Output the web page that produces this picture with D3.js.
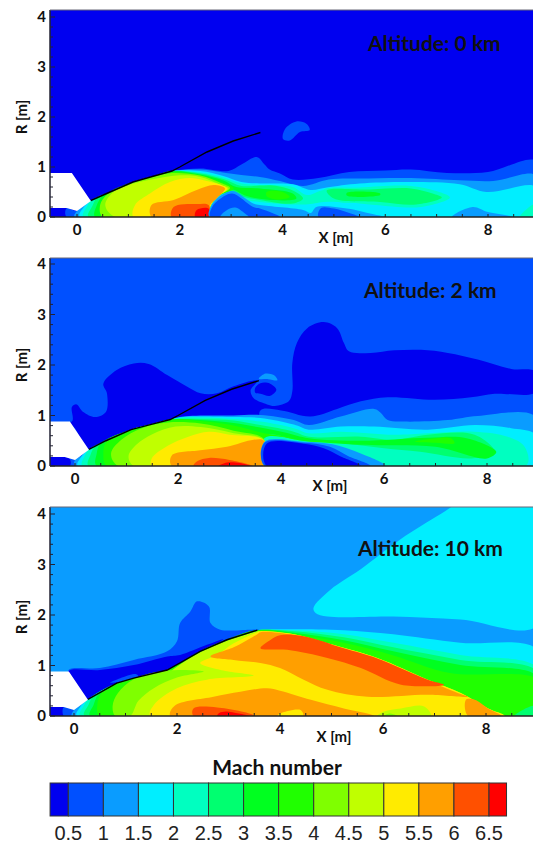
<!DOCTYPE html>
<html><head><meta charset="utf-8">
<script src="https://cdn.jsdelivr.net/npm/d3@7/dist/d3.min.js"></script>
<style>html,body{margin:0;padding:0;background:#fff}svg{display:block}
text{fill:#111}</style></head><body><svg id="c" width="533" height="847"></svg>
<script>
const machBandColors=["#0000f0","#0050ff","#0a9cff","#00eeff","#00ffc0","#00ff70","#00ff20","#20ff00","#7fff00","#c0ff00","#ffeb00","#ff9f00","#ff5000","#ff0000"];
const machTicks=[0.5,1,1.5,2,2.5,3,3.5,4,4.5,5,5.5,6,6.5];
const xTicks=[0,2,4,6,8];
const rTicks=[0,1,2,3,4];
const altitudes=["Altitude: 0 km","Altitude: 2 km","Altitude: 10 km"];
const noseBlank=[[-.6,.88],[-.1,.88],[.27,.32],[0,.12],[-.2,.18],[-.6,.18]];
const body=[[.27,.33],[.6,.48],[1.09,.7],[1.5,.82],[1.85,.92]];
const bodyMid=[[.6,.48],[1.09,.7],[1.5,.82],[1.85,.92]];
const cowl1=[[.27,.33],[.6,.48],[1.09,.7],[1.5,.82],[1.85,.92],[2.0,1],[2.53,1.3],[3.04,1.52],[3.57,1.69]];
const cowl2=[[.27,.33],[.6,.5],[1.09,.72],[1.5,.83],[1.85,.92],[2.0,1],[2.53,1.3],[3.04,1.52],[3.57,1.69]];
const cowl3=[[.27,.33],[.83,.65],[1.16,.75],[1.81,.91],[2.06,1.05],[2.45,1.28],[2.97,1.51],[3.56,1.7]];
const coneEdge3=[[.83,.65],[1.16,.75],[1.81,.91],[2.06,1.05],[2.45,1.28],[2.97,1.51],[3.56,1.7]];
const shock3=[[3.62,1.68],[4.27,1.62],[4.92,1.44],[5.89,1.15],[6.87,.72],[7.52,.45],[8.04,.15],[8.36,0]];
const noseDark=[[-.6,0],[-.6,.18],[-.2,.18],[-.1,.14],[-.1,0]];

const regions0km=[
[1,[[4.01,1.56],[4.05,1.76],[4.27,1.91],[4.47,1.86],[4.53,1.74],[4.34,1.7],[4.14,1.53]]],
[1,[[-.2,0],[-.2,.18],[0,.12],...body,[2.4,.97],[2.95,.92],[3.2,1.05],[3.5,1.2],[3.65,1.05],[3.75,.95],[3.95,.87],[4.2,.75],[4.7,.78],[5.3,.9],[6,.93],[6.5,.95],[7.2,.88],[8,.9],[8.94,1.12],[8.94,0]]],
[2,[[-.05,0],[0,.12],...body,[2.4,.95],[2.9,.88],[3.2,.84],[3.56,.8],[3.95,.72],[4.4,.62],[4.9,.75],[5.5,.77],[6.5,.78],[7.45,.735],[8.1,.72],[8.94,.83],[8.94,0]]],
[3,[[.05,0],[.12,.18],...body,[2.4,.92],[2.85,.82],[3.2,.7],[3.56,.67],[4.2,.655],[4.55,.54],[4.86,.59],[5.5,.67],[6.5,.7],[7.45,.655],[7.97,.5],[8.94,.6],[8.94,0]]],
[4,[[.12,0],[.2,.22],...body,[2.4,.89],[2.85,.79],[3.2,.67],[3.56,.64],[4.2,.6],[4.47,.44],[4.8,.54],[5.5,.59],[6.5,.62],[7.05,.5],[7.26,.39],[6.7,.2],[5.8,.24],[5.2,.3],[4.8,.3],[4.45,.25],[3.56,.3],[3.1,.4],[2.95,.6],[2.72,.4],[2.59,.2],[2.56,0]]],
[5,[[.22,0],[.3,.22],[.4,.4],...bodyMid,[2.4,.87],[2.85,.76],[3.2,.62],[3.56,.63],[3.82,.63],[4.2,.53],[4.4,.37],[4.2,.27],[3.56,.34],[3.1,.45],[2.9,.6],[2.72,.4],[2.59,.2],[2.56,0]]],
[6,[[.35,0],[.38,.22],[.5,.43],...bodyMid,[2.4,.85],[2.85,.73],[3.1,.6],[3.56,.57],[4.2,.47],[4.27,.37],[3.75,.34],[3.3,.42],[3,.55],[2.72,.4],[2.59,.2],[2.56,0]]],
[7,[[.5,0],[.48,.22],[.6,.47],[1.09,.7],[1.5,.82],[1.85,.9],[2.4,.83],[2.8,.7],[3.05,.57],[2.72,.4],[2.59,.2],[2.56,0]]],
[7,[[3.69,.5],[4,.5],[4.14,.4],[3.88,.35],[3.69,.42]]],
[4,[[4.8,.54],[5.7,.58],[6.5,.6],[7,.5],[7.2,.39],[6.6,.21],[5.9,.27],[4.95,.34]]],
[5,[[4.86,.53],[5.7,.55],[6.5,.57],[6.95,.46],[7.1,.39],[6.6,.25],[5.9,.3],[5,.37]]],
[6,[[5.25,.48],[5.9,.47],[5.9,.44],[5.25,.43]]],
[8,[[.5,0],[.45,.24],[.6,.46],[1.09,.69],[1.5,.81],[1.85,.88],[2.4,.83],[2.8,.68],[2.98,.58],[2.72,.4],[2.59,.2],[2.56,0]]],
[9,[[.74,0],[.55,.24],[.71,.5],[1.1,.67],[1.55,.77],[1.94,.83],[2.4,.8],[2.8,.64],[2.95,.57],[2.72,.4],[2.59,.2],[2.56,0]]],
[10,[[1.1,0],[1.13,.24],[1.42,.47],[1.81,.7],[2.2,.78],[2.46,.735],[2.92,.57],[2.72,.4],[2.59,.2],[2.56,0]]],
[11,[[1.45,0],[1.45,.24],[1.88,.34],[2.33,.54],[2.66,.64],[2.88,.57],[2.72,.37],[2.59,.24],[2.56,0]]],
[12,[[1.84,0],[1.88,.2],[2.33,.26],[2.56,.24],[2.56,0]]],
[13,[[2.3,0],[2.33,.14],[2.56,.17],[2.56,0]]],
[2,[[2.58,0],[2.6,.2],[2.76,.4],[3,.52],[3.1,.5],[3.43,.27],[3.56,.24],[4.4,.14],[4.55,.08],[4.66,.2],[5.25,.17],[5.83,.04],[6.03,0]]],
[1,[[2.6,0],[2.63,.2],[2.78,.36],[3.02,.47],[3.43,.2],[3.56,.17],[3.8,.08],[3.95,0]]],
[2,[[2.79,0],[2.92,.14],[3.08,.19],[3.27,.07],[3.34,0]]],
[1,[[4.7,0],[4.75,.18],[5,.17],[5.3,.08],[5.5,0]]],
[2,[[7.3,0],[7.7,.2],[8,.1],[8.5,0]]],
[4,[[8.62,0],[8.94,.27],[8.94,0]]]
];

const regions2km=[
[0,[[-.6,.88],[-.06,.88],[-.06,1.17],[.03,1.22],[.16,1.07],[.39,.97],[.6,1.07],[.62,1.44],[.55,1.63],[.81,1.9],[1.14,2.03],[1.43,2.02],[1.79,1.8],[2.18,1.57],[2.44,1.44],[2.76,1.44],[3.08,1.58],[3.54,1.69],[3.41,1.5],[3.47,1.34],[3.73,1.22],[3.88,1.19],[4.15,1.28],[4.22,1.48],[4.22,2.04],[4.31,2.44],[4.51,2.73],[4.83,2.85],[5.09,2.73],[5.22,2.44],[5.32,2.27],[5.74,2.24],[6.2,2.29],[6.72,2.3],[7.24,2.24],[7.82,2.11],[8.47,1.92],[8.94,1.87],[8.94,1.46],[8.15,1.43],[7.69,1.36],[6.98,1.31],[6.07,1.36],[5.55,1.28],[5.09,1.13],[4.57,.98],[4,1.1],[3.6,1.1],[3.6,.5],[1.85,.5],[.27,.32],[-.06,.8]]],
[0,[[3.5,1.55],[3.6,1.64],[3.79,1.63],[3.91,1.51],[3.79,1.39],[3.6,1.43],[3.5,1.45]]],
[2,[[3.57,1.73],[3.7,1.83],[3.86,1.8],[3.93,1.7],[3.75,1.72]]],
[0,noseDark],
[2,[[0,0],[0,.12],[.15,.22],...cowl2.slice(0,5),[2.1,.98],[3.08,1],[3.6,1.01],[4.25,.91],[4.54,.81],[5.16,.98],[5.81,1.13],[5.94,1.05],[6.07,.91],[6.39,.88],[7.24,.91],[7.82,.99],[8.94,.98],[8.94,0]]],
[3,[[.05,0],[.12,.18],...cowl2.slice(0,5),[2.1,.97],[3.08,.97],[3.6,.95],[4.25,.82],[4.54,.72],[5.16,.78],[5.81,.78],[6.85,.72],[7.76,.81],[8.47,.75],[8.94,.62],[8.94,0]]],
[4,[[.14,0],[.2,.22],...cowl2.slice(0,5),[2.1,.96],[3.08,.93],[3.6,.88],[4.25,.75],[4.54,.65],[5.16,.68],[6.2,.62],[6.85,.65],[7.76,.68],[8.4,.58],[8.73,.38],[8.76,0]]],
[5,[[.26,0],[.3,.22],[.4,.4],...cowl2.slice(1,5),[2.44,.93],[3.08,.9],[3.6,.81],[4.25,.68],[4.54,.58],[5.55,.58],[6.2,.52],[6.85,.62],[7.76,.62],[8.15,.28],[7.7,.15],[6.7,.28],[6,.35],[5.2,.45],[4.44,.53],[3.68,.55],[3.67,0]]],
[6,[[.42,0],[.42,.24],[.5,.45],...cowl2.slice(2,5),[2.44,.91],[3.08,.85],[3.6,.76],[4.1,.66],[4.54,.55],[5.55,.5],[6.85,.56],[7.6,.55],[8.18,.28],[8,.15],[7,.38],[5.55,.42],[4.4,.5],[3.68,.6],[3.67,0]]],
[7,[[.62,0],[.55,.22],[.62,.5],...cowl2.slice(2,5),[2.44,.89],[3.08,.8],[3.67,.65],[4.1,.58],[4.44,.5],[5,.47],[5.5,.45],[4.5,.5],[3.67,.55],[3.67,0]]],
[7,[[6.6,.48],[6.85,.53],[7.3,.55],[7.37,.45],[7,.46]]],
[8,[[.84,0],[.7,.25],[.9,.52],[1.3,.75],[1.8,.86],[2.44,.84],[3.08,.7],[3.67,.53],[3.67,0]]],
[9,[[1.14,0],[1.04,.2],[1.2,.43],[1.5,.63],[1.95,.78],[2.44,.77],[3.08,.65],[3.67,.51],[3.67,0]]],
[10,[[1.49,0],[1.49,.15],[1.8,.4],[2.2,.58],[2.6,.68],[3,.62],[3.67,.5],[3.67,0]]],
[11,[[1.88,0],[1.88,.21],[2.43,.31],[2.95,.38],[3.47,.52],[3.67,.5],[3.67,0]]],
[12,[[2.3,0],[2.38,.1],[2.6,.16],[3,.12],[3.45,0]]],
[13,[[2.79,0],[2.95,.07],[3.2,.06],[3.4,0]]],
[2,[[3.68,0],[3.68,.48],[4.44,.48],[5,.43],[5.55,.25],[6.03,0]]],
[1,[[3.68,0],[3.68,.46],[4.44,.46],[4.95,.38],[5.3,.2],[5.74,0]]],
[0,[[3.72,0],[3.72,.44],[4.44,.44],[4.83,.35],[5.16,.19],[5.55,0]]]
];

const regions10km=[
[3,[[4.65,2.14],[4.98,2.5],[5.56,2.9],[6.34,3.5],[7.12,4],[7.65,4.3],[9,4.3],[9,1.79],[7.5,1.91],[6.2,1.97],[4.92,1.97],[4.69,2.04]]],
[1,[[-.11,.9],[.5,.95],[1.16,1.11],[1.81,1.28],[2,1.48],[2.06,1.84],[2.26,2.07],[2.39,2.27],[2.62,2.17],[2.65,1.84],[2.84,1.71],[3.43,1.71],[3.6,1.7],[2.9,1.4],[1.8,.8],[.27,.3]]],
[0,[[-.11,.88],[.5,.91],[1.16,1.01],[1.81,1.18],[2.06,1.21],[2.58,1.41],[2.9,1.52],[2.4,1.2],[1.8,.8],[.27,.3]]],
[0,noseDark],
[1,[[.7,.66],[.9,.75],[1.2,.83],[1.25,.78],[.9,.68]]],
[1,[[-.2,0],[-.2,.18],[0,.12],[.03,0]]],
[2,[[-.05,0],[0,.12],[.1,.17],[.1,0]]],
[3,[[.05,0],[.12,.18],...cowl3,[3.62,1.71],[4.27,1.72],[5.24,1.7],[6.2,1.62],[7.5,1.45],[9,1.31],[9,0]]],
[4,[[.12,0],[.2,.22],...cowl3,[3.62,1.7],[4.27,1.7],[5.24,1.62],[6.2,1.45],[7.5,1.21],[9,.95],[9,0]]],
[5,[[.2,0],[.28,.22],[.38,.4],...coneEdge3,[4.27,1.68],[5.24,1.56],[6.2,1.36],[7.5,1.11],[9,.88],[9,0]]],
[6,[[.31,0],[.38,.22],[.48,.44],...coneEdge3,[4.27,1.65],[5.24,1.5],[6.2,1.28],[7.5,1.01],[9,.78],[9,0]]],
[7,[[.5,0],[.45,.2],[.55,.48],...coneEdge3,[4.27,1.62],[5.24,1.45],[6.2,1.2],[7.3,.85],[9,.72],[9,.18],[8.6,0]]],
[5,[[8.55,0],[8.94,.2],[8.94,0]]],
[9,[[1.09,0],[1.12,.2],[1.35,.5],[1.7,.75],[2.06,1.02],[2.45,1.26],[2.97,1.49],[3.56,1.68],...shock3]],
[10,[[1.48,0],[1.55,.22],[2,.55],[2.58,.72],[3.49,.8],[2.9,.9],[2.45,1.05],[2.78,1.21],[3.1,1.44],[3.56,1.66],...shock3]],
[8,[[.8,0],[.75,.2],[.85,.45],[1.16,.73],[1.81,.9],[2.52,.88],[2,.76],[1.55,.55],[1.25,.3],[1.09,0]]],
[11,[[2.65,1.18],[3.1,1.36],[3.56,1.62],[3.62,1.66],[4.27,1.6],[4.92,1.42],[5.89,1.13],[6.87,.7],[7.52,.43],[7.65,.38],[6.87,.42],[5.7,.38],[4.92,.52],[4.46,.72],[4,.95],[3.62,1.05],[3.1,1.11]]],
[12,[[3.62,1.34],[3.82,1.51],[4,1.6],[4.46,1.58],[5.24,1.34],[5.89,1.14],[6.87,.72],[7.19,.62],[6.35,.62],[5.57,.95],[4.92,1.15],[4.14,1.31]]],
[11,[[1.87,0],[1.95,.2],[2.71,.38],[3.23,.48],[3.75,.55],[4,.5],[4.6,.32],[5.24,.15],[5.83,0]]],
[11,[[7.65,0],[7.61,.32],[7.78,.32],[8.04,.15],[8.3,0]]],
[12,[[2.32,0],[2.32,.15],[2.78,.17],[3.49,.02],[3.5,0]]],
[13,[[2.78,0],[2.82,.06],[2.95,.09],[3.2,.05],[3.4,0]]],
[10,[[3.95,0],[4,.05],[4.4,.12],[4.45,0]]],
[9,[[5.89,0],[6.02,.09],[6.35,.15],[6.8,.19],[6.93,0]]],
[8,[[6.02,0],[6.12,.05],[6.28,0]]]
];

const svg=d3.select("#c");
const panels=[
 {regions:regions0km,bg:0,top:10,bottom:217,x0:77,x8:488,r1:167,cowl:cowl1,label:[368,51],xl:[336,243],rl:117},
 {regions:regions2km,bg:1,top:258,bottom:466,x0:75,x8:487,r1:415.5,cowl:cowl2,label:[364,298],xl:[330,491],rl:365},
 {regions:regions10km,bg:2,top:507,bottom:716,x0:74,x8:486,r1:665.5,cowl:cowl3,label:[358,556],xl:[334,742],rl:617}
];
const left=50,right=533;
panels.forEach((p,i)=>{
 const x=d3.scaleLinear().domain([0,8]).range([p.x0,p.x8]);
 const y=d3.scaleLinear().domain([0,1]).range([p.bottom,p.r1]);
 const cid="clip"+i;
 svg.append("clipPath").attr("id",cid).append("rect").attr("x",left).attr("y",p.top).attr("width",right-left).attr("height",p.bottom-p.top);
 const g=svg.append("g").attr("clip-path",`url(#${cid})`);
 g.append("rect").attr("x",left).attr("y",p.top).attr("width",right-left).attr("height",p.bottom-p.top).attr("fill",machBandColors[p.bg]);
 const area=d3.line().x(d=>x(d[0])).y(d=>y(d[1])).curve(d3.curveCatmullRomClosed.alpha(.5));
 const poly=d3.line().x(d=>x(d[0])).y(d=>y(d[1]));
 g.selectAll("path.band").data(p.regions).join("path").attr("class","band")
  .attr("d",d=>area(d[1])).attr("fill",d=>machBandColors[d[0]]);
 g.append("path").attr("d",poly(noseBlank)+"Z").attr("fill","#fff");
 g.append("path").attr("d",poly(p.cowl)).attr("fill","none").attr("stroke","#000").attr("stroke-width",1.4);
 // axes
 const ax=svg.append("g").attr("transform",`translate(0,${p.bottom})`);
 ax.append("line").attr("x1",left).attr("x2",right).attr("stroke","#222").attr("stroke-width",1.5);
 ax.selectAll("line.m").data(d3.range(0,9,.5)).join("line").attr("class","m")
  .attr("x1",d=>x(d)).attr("x2",d=>x(d)).attr("y1",0).attr("y2",-3).attr("stroke","#222");
 ax.selectAll("text").data(xTicks).join("text").attr("x",d=>x(d)).attr("y",18).attr("text-anchor","middle")
  .attr("font-family","Lato").attr("font-weight",700).attr("font-size",15).text(d=>d);
 const ay=svg.append("g");
 ay.append("line").attr("x1",left).attr("x2",left).attr("y1",p.top).attr("y2",p.bottom).attr("stroke","#223").attr("stroke-width",1.5);
 ay.selectAll("line.m").data(d3.range(0,4.01,.2)).join("line").attr("class","m")
  .attr("x1",left).attr("x2",d=>left+(Math.abs(d-Math.round(d))<.01?5:3)).attr("y1",d=>y(d)).attr("y2",d=>y(d)).attr("stroke","#223");
 ay.selectAll("text").data(rTicks).join("text").attr("x",46).attr("y",d=>Math.max(y(d),p.top+3)+5).attr("text-anchor","end")
  .attr("font-family","Lato").attr("font-weight",700).attr("font-size",15).text(d=>d);
 svg.append("line").attr("x1",left).attr("x2",right).attr("y1",p.top).attr("y2",p.top).attr("stroke","#667").attr("stroke-width",1);
 svg.append("text").attr("x",p.label[0]).attr("y",p.label[1]).attr("font-family","Lato").attr("font-weight",700).attr("font-size",21).text(altitudes[i]);
 svg.append("text").attr("x",p.xl[0]).attr("y",p.xl[1]).attr("text-anchor","middle").attr("font-family","Lato").attr("font-weight",700).attr("font-size",15).text("X [m]");
 svg.append("text").attr("transform",`translate(27,${p.rl}) rotate(-90)`).attr("text-anchor","middle").attr("font-family","Lato").attr("font-weight",700).attr("font-size",15).text("R [m]");
});
// legend
const lx=d3.scaleLinear().domain([0.5,6.5]).range([68.3,489]);
const bandEdges=[0.24,...machTicks,6.75];
const lg=svg.append("g");
lg.selectAll("rect").data(machBandColors).join("rect")
 .attr("x",(d,i)=>lx(bandEdges[i])).attr("width",(d,i)=>lx(bandEdges[i+1])-lx(bandEdges[i]))
 .attr("y",783).attr("height",33).attr("fill",d=>d).attr("stroke","#333").attr("stroke-width",1);
lg.selectAll("text").data(machTicks).join("text").attr("x",d=>lx(d)).attr("y",840).attr("text-anchor","middle")
 .attr("font-family","Liberation Sans").attr("font-size",20).style("fill","#222").text(d=>d);
svg.append("text").attr("x",277).attr("y",775).attr("text-anchor","middle").attr("font-family","Lato").attr("font-weight",700).attr("font-size",21).text("Mach number");
</script></body></html>
